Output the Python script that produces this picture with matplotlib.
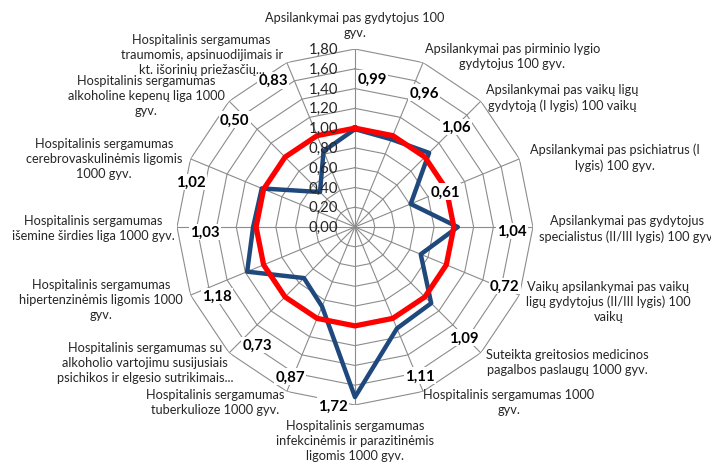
import numpy as np
import matplotlib.pyplot as plt

plt.rcParams['font.family'] = ['Lato', 'DejaVu Sans']

categories = [
    "Apsilankymai pas gydytojus 100\ngyv.",
    "Apsilankymai pas pirminio lygio\ngydytojus 100 gyv.",
    "Apsilankymai pas vaikų ligų\ngydytoją (I lygis) 100 vaikų",
    "Apsilankymai pas psichiatrus (I\nlygis) 100 gyv.",
    "Apsilankymai pas gydytojus\nspecialistus (II/III lygis) 100 gyv.",
    "Vaikų apsilankymai pas vaikų\nligų gydytojus (II/III lygis) 100\nvaikų",
    "Suteikta greitosios medicinos\npagalbos paslaugų 1000 gyv.",
    "Hospitalinis sergamumas 1000\ngyv.",
    "Hospitalinis sergamumas\ninfekcinėmis ir parazitinėmis\nligomis 1000 gyv.",
    "Hospitalinis sergamumas\ntuberkulioze 1000 gyv.",
    "Hospitalinis sergamumas su\nalkoholio vartojimu susijusiais\npsichikos ir elgesio sutrikimais...",
    "Hospitalinis sergamumas\nhipertenzinėmis ligomis 1000\ngyv.",
    "Hospitalinis sergamumas\nišemine širdies liga 1000 gyv.",
    "Hospitalinis sergamumas\ncerebrovaskulinėmis ligomis\n1000 gyv.",
    "Hospitalinis sergamumas\nalkoholine kepenų liga 1000\ngyv.",
    "Hospitalinis sergamumas\ntraumomis, apsinuodijimais ir\nkt. išorinių priežasčių...",
]
region = [0.99, 0.96, 1.06, 0.61, 1.04, 0.72, 1.09, 1.11,
          1.72, 0.87, 0.73, 1.18, 1.03, 1.02, 0.50, 0.83]
country = [1.00] * 16
r_ticks = [0.0, 0.2, 0.4, 0.6, 0.8, 1.0, 1.2, 1.4, 1.6, 1.8]

# where the value labels and category labels sit (angle deg, radius)
val_pos = [(6.6, 1.51), (27.1, 1.53), (45.3, 1.44), (68.7, 0.98),
           (91.5, 1.59), (111.5, 1.63), (135.3, 1.57), (156.4, 1.64),
           (187, 1.82), (203.4, 1.65), (219.7, 1.55), (243.4, 1.56),
           (268.1, 1.52), (285.3, 1.72), (311.7, 1.63), (330.8, 1.70)]
cat_pos = [(0, 2.05), (42.6, 2.35), (57.9, 2.47), (74.9, 2.72),
           (90.2, 2.75), (106.3, 2.67), (122.3, 2.54), (138.5, 2.35),
           (180, 2.15), (218.8, 2.26), (237.3, 2.52), (254.2, 2.67),
           (269.8, 2.65), (285.4, 2.63), (302.3, 2.50), (318.5, 2.34)]

n = len(categories)
theta = np.arange(n) * 2 * np.pi / n
theta_c = np.append(theta, theta[0])

fig = plt.figure(figsize=(7.11, 4.64), dpi=100)
ax = fig.add_axes([0.2489, 0.125, 0.5007, 0.7672], projection='polar')
ax.set_theta_zero_location('N')
ax.set_theta_direction(-1)
ax.set_ylim(0, 1.8)
ax.grid(False)
ax.spines['polar'].set_visible(False)
ax.set_xticks([])
ax.set_yticks([])

grid_c = '#8c8c8c'
for r in r_ticks[1:]:
    ax.plot(theta_c, [r] * (n + 1), color=grid_c, lw=0.8, zorder=1)
for t in theta:
    ax.plot([t, t], [0, 1.8], color=grid_c, lw=0.8, zorder=1)

ax.plot(theta_c, np.append(region, region[0]), color='#1F497D', lw=3.2,
        zorder=3, clip_on=False)
ax.plot(theta_c, np.append(country, country[0]), color='#FF0000', lw=3.8,
        zorder=4, clip_on=False)

for v in r_ticks:
    ax.annotate(f"{v:.2f}".replace('.', ','), xy=(0, v), xytext=(-12, 0),
                textcoords='offset points', ha='right', va='center',
                fontsize=10.8, color='#262626', zorder=5)

for v, (a, r) in zip(region, val_pos):
    ax.text(np.deg2rad(a), r, f"{v:.2f}".replace('.', ','), ha='center',
            va='center', fontsize=10.8, fontweight='bold', color='black',
            zorder=6, bbox=dict(fc='white', ec='none', pad=1.0))

for txt, (a, r) in zip(categories, cat_pos):
    ax.text(np.deg2rad(a), r, txt, ha='center', va='center', fontsize=9.2,
            linespacing=1.3, color='#262626', zorder=6)

fig.savefig('out.png', dpi=100)
